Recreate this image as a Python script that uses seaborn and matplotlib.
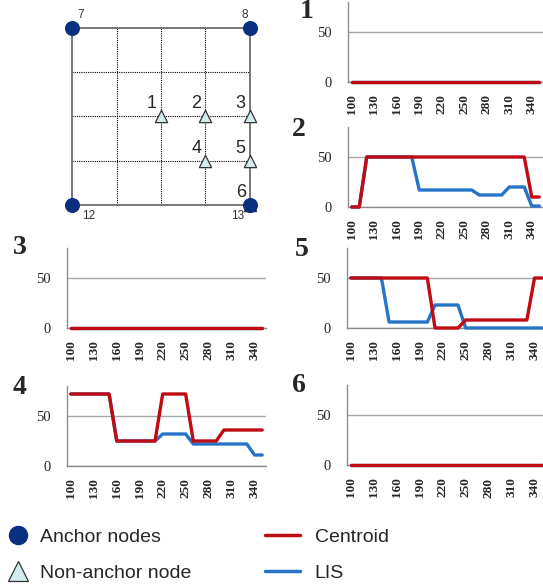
import matplotlib
matplotlib.use("Agg")
import matplotlib.pyplot as plt
from matplotlib.lines import Line2D
import pandas as pd
import seaborn as sns

# x categories of every small chart (distance), labels every third one
x_vals = [100, 110, 120, 130, 140, 150, 160, 170, 180, 190, 200, 210, 220,
          230, 240, 250, 260, 270, 280, 290, 300, 310, 320, 330, 340, 350]
tick_vals = [100, 130, 160, 190, 220, 250, 280, 310, 340]

# error per non-anchor node
centroid_1 = [0, 0, 0, 0, 0, 0, 0, 0, 0, 0, 0, 0, 0, 0, 0, 0, 0, 0, 0, 0, 0, 0, 0, 0, 0, 0]
lis_1 = [0, 0, 0, 0, 0, 0, 0, 0, 0, 0, 0, 0, 0, 0, 0, 0, 0, 0, 0, 0, 0, 0, 0, 0, 0, 0]
centroid_2 = [0, 0, 50, 50, 50, 50, 50, 50, 50, 50, 50, 50, 50, 50, 50, 50, 50, 50, 50, 50, 50, 50, 50, 50, 10, 10]
lis_2 = [0, 0, 50, 50, 50, 50, 50, 50, 50, 17, 17, 17, 17, 17, 17, 17, 17, 12, 12, 12, 12, 20, 20, 20, 1, 1]
centroid_3 = [0, 0, 0, 0, 0, 0, 0, 0, 0, 0, 0, 0, 0, 0, 0, 0, 0, 0, 0, 0, 0, 0, 0, 0, 0, 0]
lis_3 = [0, 0, 0, 0, 0, 0, 0, 0, 0, 0, 0, 0, 0, 0, 0, 0, 0, 0, 0, 0, 0, 0, 0, 0, 0, 0]
centroid_4 = [72, 72, 72, 72, 72, 72, 25, 25, 25, 25, 25, 25, 72, 72, 72, 72, 25, 25, 25, 25, 36, 36, 36, 36, 36, 36]
lis_4 = [72, 72, 72, 72, 72, 72, 25, 25, 25, 25, 25, 25, 32, 32, 32, 32, 22, 22, 22, 22, 22, 22, 22, 22, 11, 11]
centroid_5 = [50, 50, 50, 50, 50, 50, 50, 50, 50, 50, 50, 0, 0, 0, 0, 8, 8, 8, 8, 8, 8, 8, 8, 8, 50, 50]
lis_5 = [50, 50, 50, 50, 50, 6, 6, 6, 6, 6, 6, 23, 23, 23, 23, 0, 0, 0, 0, 0, 0, 0, 0, 0, 0, 0]
centroid_6 = [0, 0, 0, 0, 0, 0, 0, 0, 0, 0, 0, 0, 0, 0, 0, 0, 0, 0, 0, 0, 0, 0, 0, 0, 0, 0]
lis_6 = [0, 0, 0, 0, 0, 0, 0, 0, 0, 0, 0, 0, 0, 0, 0, 0, 0, 0, 0, 0, 0, 0, 0, 0, 0, 0]

# network layout (grid units)
grid_pos = [1, 2, 3]
anchor_x = [0, 4, 0, 4]
anchor_y = [4, 4, 0, 0]
anchor_ids = ["7", "8", "12", "13"]
node_x = [2, 3, 4, 3, 4, 4]
node_y = [2, 2, 2, 1, 1, 0]
node_ids = ["1", "2", "3", "4", "5", "6"]

RED = "#c00a14"
BLUE = "#2674c8"
NAVY = "#0b2f80"
TRI = "#d4ecef"

sns.set_style("white")
plt.rcParams["font.family"] = ["Liberation Sans", "DejaVu Sans"]

W, H = 543, 587
fig = plt.figure(figsize=(W / 100, H / 100), dpi=100)


def px_axes(left, top, width, height):
    return fig.add_axes([left / W, 1 - (top + height) / H, width / W, height / H])


# ---- network diagram ----
axd = px_axes(50, 6, 222, 221)
axd.set_xlim(-0.5, 4.5)
axd.set_ylim(-0.5, 4.5)
axd.axis("off")
for g in grid_pos:
    axd.plot([g, g], [0, 4], color="black", lw=0.8, ls=(0, (1, 1)))
    axd.plot([0, 4], [g, g], color="black", lw=0.8, ls=(0, (1, 1)))
axd.plot([0, 4, 4, 0, 0], [0, 0, 4, 4, 0], color="#777777", lw=1.4)
sns.scatterplot(x=node_x, y=node_y, marker="^", s=78, color=TRI,
                edgecolor="#333333", linewidth=0.9, ax=axd, zorder=3)
sns.scatterplot(x=anchor_x, y=anchor_y, marker="o", s=100, color=NAVY,
                edgecolor=NAVY, ax=axd, zorder=4)
for nid, nx, ny in zip(node_ids, node_x, node_y):
    axd.annotate(nid, (nx, ny), xytext=(-6.5, 9), textcoords="offset points",
                 ha="center", va="center", fontsize=13)
anchor_offsets = {"7": (6, 9.5), "8": (-3.5, 9.5), "12": (12, -8), "13": (-9, -8)}
for aid, ax_, ay_ in zip(anchor_ids, anchor_x, anchor_y):
    axd.annotate(aid, (ax_, ay_), xytext=anchor_offsets[aid], textcoords="offset points",
                 ha="center", va="center", fontsize=8.5, color="#333333")

# ---- small line charts ----
panels = [
    ("1", centroid_1, lis_1, (348, 2, 195, 80), (307, 12)),
    ("2", centroid_2, lis_2, (348, 127, 195, 80), (299, 129)),
    ("3", centroid_3, lis_3, (67, 248, 199, 80), (20, 247)),
    ("5", centroid_5, lis_5, (347, 248, 199, 80), (302, 249)),
    ("4", centroid_4, lis_4, (67, 386, 199, 80), (20, 387)),
    ("6", centroid_6, lis_6, (347, 385, 199, 80), (299, 385)),
]

for name, cen, lis, rect, lab in panels:
    ax = px_axes(*rect)
    df = pd.DataFrame({
        "distance": x_vals + x_vals,
        "error": lis + cen,
        "method": ["LIS"] * len(lis) + ["Centroid"] * len(cen),
    })
    sns.lineplot(data=df, x="distance", y="error", hue="method",
                 hue_order=["LIS", "Centroid"], palette={"LIS": BLUE, "Centroid": RED},
                 lw=2.4, legend=False, ax=ax)
    for ln in ax.lines:
        ln.set_clip_on(False)
        ln.set_zorder(3)
    ax.set_xlim(95, 355)
    ax.set_ylim(0, 80)
    ax.set_xlabel("")
    ax.set_ylabel("")
    ax.set_yticks([0, 50])
    ax.set_yticklabels(["0", "50"], family=["Liberation Serif", "DejaVu Serif"], fontsize=10.5)
    ax.set_xticks(tick_vals)
    ax.set_xticklabels([str(t) for t in tick_vals], rotation=90,
                       family=["Liberation Serif", "DejaVu Serif"], fontsize=9.5, fontweight="bold")
    ax.set_xticks(list(range(95, 360, 10)), minor=True)
    ax.tick_params(axis="x", which="major", length=0, pad=9)
    ax.tick_params(axis="x", which="minor", length=4, width=0.8, color="#8c8c8c", direction="out")
    ax.tick_params(axis="y", length=3, width=0.8, color="#8c8c8c", direction="out", pad=9)
    ax.grid(axis="y", color="#a8a8a8", lw=1)
    ax.grid(axis="x", visible=False)
    for s in ["top", "right"]:
        ax.spines[s].set_visible(False)
    for s in ["left", "bottom"]:
        ax.spines[s].set_color("#8c8c8c")
        ax.spines[s].set_linewidth(1)
    fig.text(lab[0] / W, 1 - lab[1] / H, name, ha="center", va="center",
             family=["Liberation Serif", "DejaVu Serif"], fontsize=20, fontweight="bold")

# ---- legend ----
node_handles = [
    Line2D([], [], ls="", marker="o", ms=13, color=NAVY, mec=NAVY),
    Line2D([], [], ls="", marker="^", ms=15, color=TRI, mec="#333333", mew=0.9),
]
line_handles = [
    Line2D([], [], color=RED, lw=2.5),
    Line2D([], [], color=BLUE, lw=2.5),
]
fig.legend(node_handles, ["Anchor nodes", "Non-anchor node"], loc="upper left",
           bbox_to_anchor=(0 / W, 1 - 528 / H), frameon=False, fontsize=14,
           handlelength=1.8, handletextpad=0.25, labelspacing=0.95,
           borderpad=0, borderaxespad=0)
fig.legend(line_handles, ["Centroid", "LIS"], loc="upper left",
           bbox_to_anchor=(265 / W, 1 - 528 / H), frameon=False, fontsize=14,
           handlelength=1.8, handletextpad=0.75, labelspacing=0.95,
           borderpad=0, borderaxespad=0)

fig.savefig("out.png", dpi=100)
